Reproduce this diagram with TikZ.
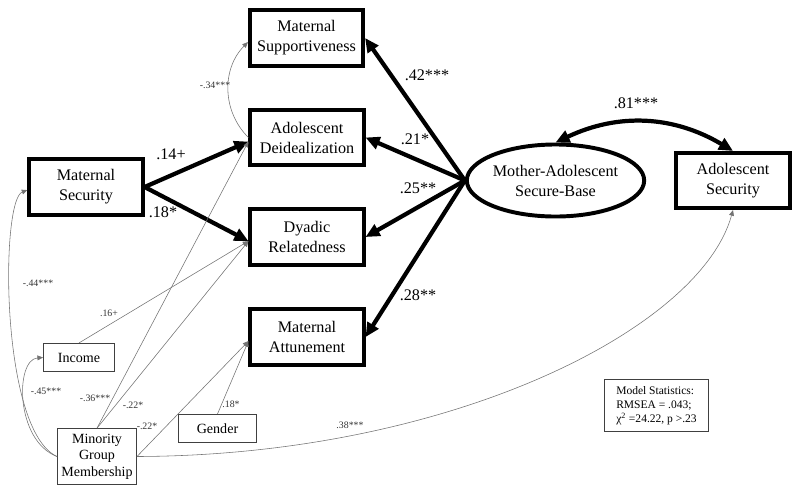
\documentclass[tikz,border=0pt]{standalone}
\usepackage{fontspec}
\setmainfont{Liberation Serif}
\usetikzlibrary{arrows.meta, shapes.geometric}

\begin{document}
\begin{tikzpicture}[x=0.025cm, y=-0.025cm,
    bigbox/.style={draw, line width=2.8pt, minimum width=2.83cm, minimum height=1.38cm, inner sep=0pt, align=center, font=\fontsize{11.5}{14.2}\selectfont},
    smallbox/.style={draw=black!75, line width=0.8pt, inner sep=0pt, align=center, font=\fontsize{10}{11.8}\selectfont},
    thickarr/.style={line width=3pt, -{Triangle[length=10pt,width=9pt]}},
    thinarr/.style={draw=black!55, line width=0.4pt, -{Triangle[length=4pt,width=3.5pt]}, fill=none},
    biglab/.style={font=\fontsize{11.5}{13}\selectfont},
    smalllab/.style={font=\fontsize{7}{8}\selectfont, text=black!80}]
    \useasboundingbox (0,0) rectangle (800,494);
    % latent and observed variables
    \node[bigbox] (msup) at (306.5,38) {Maternal\\Supportiveness};
    \node[bigbox] (dei) at (307,137.5) {Adolescent\\Deidealization};
    \node[bigbox] (dr) at (307,237) {Dyadic\\Relatedness};
    \node[bigbox] (ma) at (307,337) {Maternal\\Attunement};
    \node[bigbox] (ms) at (86,187) {Maternal\\Security};
    \node[bigbox] (as) at (733,180.5) {Adolescent\\Security};
    \node[ellipse, draw, line width=2.8pt, minimum width=3.9cm, minimum height=1.8cm, inner sep=0pt, align=center, font=\fontsize{11.5}{14.2}\selectfont] (sb) at (555.5,180.5) {Mother-Adolescent\\Secure-Base};
    % covariates
    \node[smallbox, minimum width=1.77cm, minimum height=0.7cm] (inc) at (79,357.5) {Income};
    \node[smallbox, minimum width=1.97cm, minimum height=1.39cm] (min) at (97,456.5) {Minority\\Group\\Membership};
    \node[smallbox, minimum width=1.97cm, minimum height=0.7cm] (gen) at (217.5,428.5) {Gender};
    \node[smallbox, minimum width=2.6cm, minimum height=1.3cm, align=left, font=\fontsize{8.2}{10}\selectfont] (stats) at (656.5,405.5) {Model Statistics:\\RMSEA = .043;\\χ\textsuperscript{2} =24.22, p >.23};
    % main paths
    \draw[thickarr] (ms.east) -- (dei.184);
    \draw[thickarr] (ms.east) -- (dr.184);
    \draw[thickarr] (sb.west) -- (msup.east);
    \draw[thickarr] (sb.west) -- (dei.east);
    \draw[thickarr] (sb.west) -- (dr.east);
    \draw[thickarr] (sb.west) -- (ma.east);
    \draw[line width=3pt, {Triangle[length=10pt,width=9pt]}-{Triangle[length=10pt,width=9pt]}] (sb.north) to[bend left=28] (as.north);
    % control paths
    \draw[thinarr] (dei.west) to[bend left=45] (msup.184);
    \draw[thinarr] (min.west) .. controls +(-42,-16) and +(-28,2) .. (inc.west);
    \draw[thinarr] (min.west) .. controls +(-57,-26) and +(-27,10) .. (ms.183);
    \draw[thinarr] (min.east) .. controls +(313,-1) and +(-33,119) .. (as.south);
    \draw[thinarr] (inc.north) -- (dr.184);
    \draw[thinarr] (min.north) -- (dei.184);
    \draw[thinarr] (min.north) -- (dr.184);
    \draw[thinarr] (min.east) -- (ma.184);
    \draw[thinarr] (gen.north) -- (ma.184);
    % coefficients
    \node[biglab] (l42) at (427,75) {.42***};
    \node[biglab] (l21) at (415,139) {.21*};
    \node[biglab] (l25) at (418,188) {.25**};
    \node[biglab] (l28) at (418,295) {.28**};
    \node[biglab] (l81) at (636,103) {.81***};
    \node[biglab] (l14) at (171,154) {.14+};
    \node[biglab] (l18) at (163,212) {.18*};
    \node[smalllab] (l34) at (215,85) {-.34***};
    \node[smalllab] (l44) at (38,283) {-.44***};
    \node[smalllab] (l16) at (109,313) {.16+};
    \node[smalllab] (l45) at (46,391) {-.45***};
    \node[smalllab] (l36) at (95,398) {-.36***};
    \node[smalllab] (l22a) at (133,405) {-.22*};
    \node[smalllab] (l22b) at (147,426) {-.22*};
    \node[smalllab] (l18g) at (231,404) {.18*};
    \node[smalllab] (l38) at (350,425) {.38***};
\end{tikzpicture}
\end{document}
